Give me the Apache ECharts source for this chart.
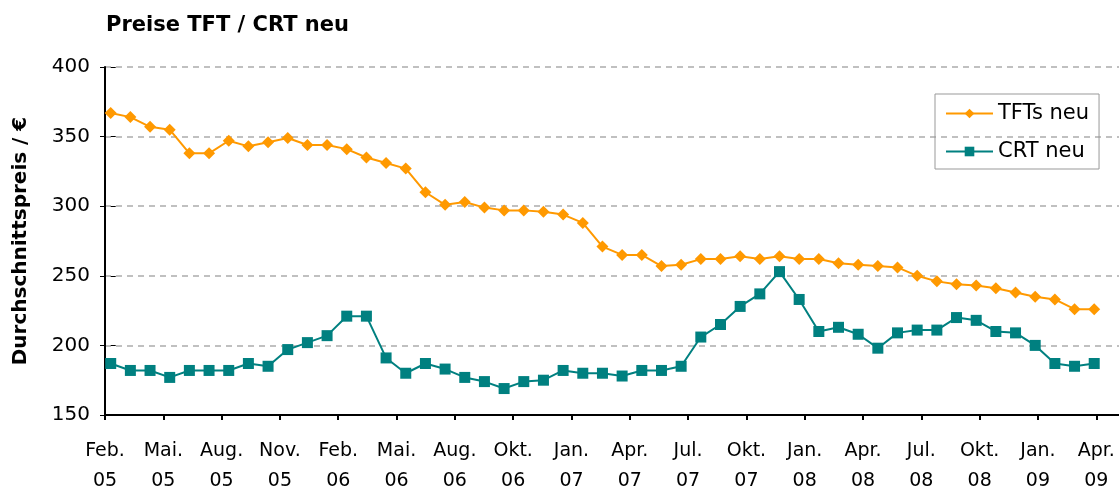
<!DOCTYPE html>
<html>
<head>
<meta charset="utf-8">
<script src="https://cdn.jsdelivr.net/npm/echarts@6/dist/echarts.min.js"></script>
<style>
html,body{margin:0;padding:0;background:#fff;}
#c{width:1119px;height:496px;}
</style>
</head>
<body>
<div id="c"></div>
<script>
// Tick labels on the date axis (irregular in the original)
const tickLabels = ['Feb.\n05','Mai.\n05','Aug.\n05','Nov.\n05','Feb.\n06','Mai.\n06','Aug.\n06','Okt.\n06','Jan.\n07','Apr.\n07','Jul.\n07','Okt.\n07','Jan.\n08','Apr.\n08','Jul.\n08','Okt.\n08','Jan.\n09','Apr.\n09'];

// Monthly average prices (Feb 05 .. Apr 09)
const tftValues = [367,364,357,355,338,338,347,343,346,349,344,344,341,335,331,327,
  310,301,303,299,297,297,296,294,288,271,265,265,257,258,262,262,
  264,262,264,262,262,259,258,257,256,250,246,244,243,241,238,235,233,226,226];
const crtValues = [187,182,182,177,182,182,182,187,185,197,202,207,221,221,191,180,
  187,183,177,174,169,174,175,182,180,180,178,182,182,185,206,215,
  228,237,253,233,210,213,208,198,209,211,211,220,218,210,209,200,187,185,187];

const seriesNames = ['TFTs neu','CRT neu'];

const tickIdx = tickLabels.map((_, i) => i);
const tftData = tftValues.map((v, i) => [i, v]);
const crtData = crtValues.map((v, i) => [i, v]);

const FONT = 'DejaVu Sans';
const chart = echarts.init(document.getElementById('c'));
chart.setOption({
  animation: false,
  backgroundColor: '#ffffff',
  title: {
    text: 'Preise TFT / CRT neu',
    left: 101, top: 10,
    textStyle: {fontFamily: FONT, fontSize: 21, fontWeight: 'bold', color: '#000'}
  },
  legend: {
    orient: 'vertical',
    left: 935, top: 94,
    padding: [9, 10, 7, 10],
    itemGap: 17,
    itemWidth: 47, itemHeight: 12,
    borderColor: '#999', borderWidth: 1,
    textStyle: {fontFamily: FONT, fontSize: 21, color: '#000'},
    data: seriesNames
  },
  grid: {left: 105, right: 0, top: 67, bottom: 79, containLabel: false},
  xAxis: [
    {
      type: 'value', min: 0, max: 17.39,
      position: 'bottom',
      axisLine: {show: true, onZero: false, lineStyle: {color: '#000', width: 2}},
      axisTick: {show: true, customValues: tickIdx, length: 5, lineStyle: {color: '#000', width: 2}},
      axisLabel: {
        customValues: tickIdx,
        formatter: v => tickLabels[Math.round(v)] || '',
        fontFamily: FONT, fontSize: 19, color: '#000', lineHeight: 30, margin: 21
      },
      splitLine: {show: false}
    },
    {
      type: 'value', min: -0.29, max: 51.26, show: false
    }
  ],
  yAxis: [
    {
      type: 'value', min: 150, max: 400, interval: 50,
      axisLine: {show: true, lineStyle: {color: '#000', width: 2}},
      axisTick: {show: true, length: 5, lineStyle: {color: '#000', width: 1}},
      axisLabel: {fontFamily: FONT, fontSize: 20, color: '#000', margin: 15},
      splitLine: {show: true, lineStyle: {color: '#c0c0c0', type: [6, 5], width: 2}},
      name: 'Durchschnittspreis / €',
      nameLocation: 'middle', nameRotate: 90, nameGap: 74,
      nameTextStyle: {fontFamily: FONT, fontSize: 20, fontWeight: 'bold', color: '#000'}
    },
    {
      type: 'value', min: 150, max: 400, interval: 50, position: 'left',
      axisLine: {show: false},
      axisTick: {show: true, inside: true, length: 5, lineStyle: {color: '#000', width: 1}},
      axisLabel: {show: false},
      splitLine: {show: false}
    }
  ],
  series: [
    {
      name: seriesNames[0], type: 'line', xAxisIndex: 1, yAxisIndex: 0,
      data: tftData,
      symbol: 'diamond', symbolSize: 12,
      itemStyle: {color: '#FF9900'},
      lineStyle: {color: '#FF9900', width: 2}
    },
    {
      name: seriesNames[1], type: 'line', xAxisIndex: 1, yAxisIndex: 0,
      data: crtData,
      symbol: 'rect', symbolSize: 11,
      itemStyle: {color: '#008080'},
      lineStyle: {color: '#008080', width: 2}
    }
  ]
});
</script>
</body>
</html>
